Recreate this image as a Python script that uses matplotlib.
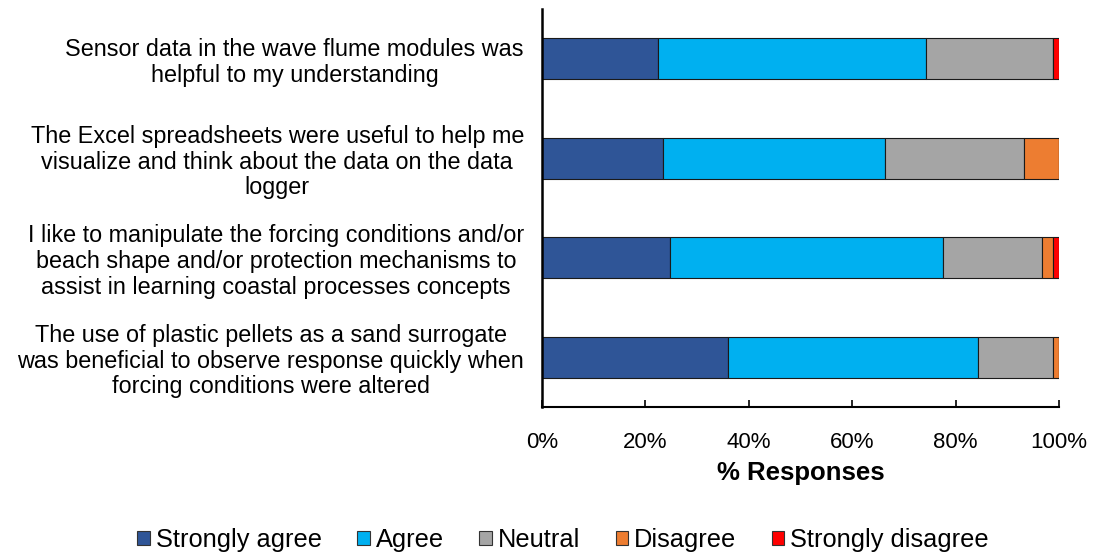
import matplotlib
matplotlib.use("Agg")
import matplotlib.pyplot as plt
from matplotlib.patches import Patch
from matplotlib.ticker import PercentFormatter

plt.rcParams['font.family'] = ['Liberation Sans', 'DejaVu Sans']

statements = [
    "Sensor data in the wave flume modules was\nhelpful to my understanding",
    "The Excel spreadsheets were useful to help me\nvisualize and think about the data on the data\nlogger",
    "I like to manipulate the forcing conditions and/or\nbeach shape and/or protection mechanisms to\nassist in learning coastal processes concepts",
    "The use of plastic pellets as a sand surrogate\nwas beneficial to observe response quickly when\nforcing conditions were altered",
]
categories = ["Strongly agree", "Agree", "Neutral", "Disagree", "Strongly disagree"]
strongly_agree = [22.5, 23.5, 24.7, 35.9]
agree = [51.7, 42.8, 52.8, 48.4]
neutral = [24.6, 27.0, 19.2, 14.5]
disagree = [0.0, 6.7, 2.2, 1.2]
strongly_disagree = [1.2, 0.0, 1.1, 0.0]
colors = ["#2F5597", "#00B0F0", "#A5A5A5", "#ED7D31", "#FF0000"]
xticks = [0, 20, 40, 60, 80, 100]

series = [strongly_agree, agree, neutral, disagree, strongly_disagree]

fig = plt.figure(figsize=(10.93, 5.56), dpi=100)
ax = fig.add_axes([542/1093, 1-407/556, (1059-542)/1093, (407-9)/556])

ypos = list(range(len(statements)))
left = [0.0]*len(statements)
for vals, col in zip(series, colors):
    ax.barh(ypos, vals, left=left, height=0.41, color=col,
            edgecolor="#1a1a1a", linewidth=0.8)
    left = [l + v for l, v in zip(left, vals)]

ax.set_ylim(len(statements)-0.5, -0.5)
ax.set_xlim(0, 100)
ax.set_yticks(ypos)
ax.set_yticklabels(statements, fontsize=16.8, multialignment='center', linespacing=1.15)
ax.tick_params(axis='y', length=0, pad=13)
ax.set_xticks(xticks)
ax.xaxis.set_major_formatter(PercentFormatter(decimals=0))
ax.tick_params(axis='x', direction='in', length=5, width=1.2, labelsize=16, pad=18)
ax.set_xlabel("% Responses", fontsize=18.5, fontweight='bold', labelpad=6)
for s in ['top', 'right']:
    ax.spines[s].set_visible(False)
ax.spines['left'].set_linewidth(1.8)
ax.spines['bottom'].set_linewidth(1.5)

handles = [Patch(facecolor=c, edgecolor="#333333", linewidth=0.8, label=l)
           for c, l in zip(colors, categories)]
fig.legend(handles=handles, loc='center', bbox_to_anchor=(563/1093, 16/556),
           ncol=5, frameon=False, fontsize=18.3, handlelength=0.5, handleheight=0.5,
           handletextpad=0.22, columnspacing=1.4)

fig.savefig("out.png", dpi=100)
